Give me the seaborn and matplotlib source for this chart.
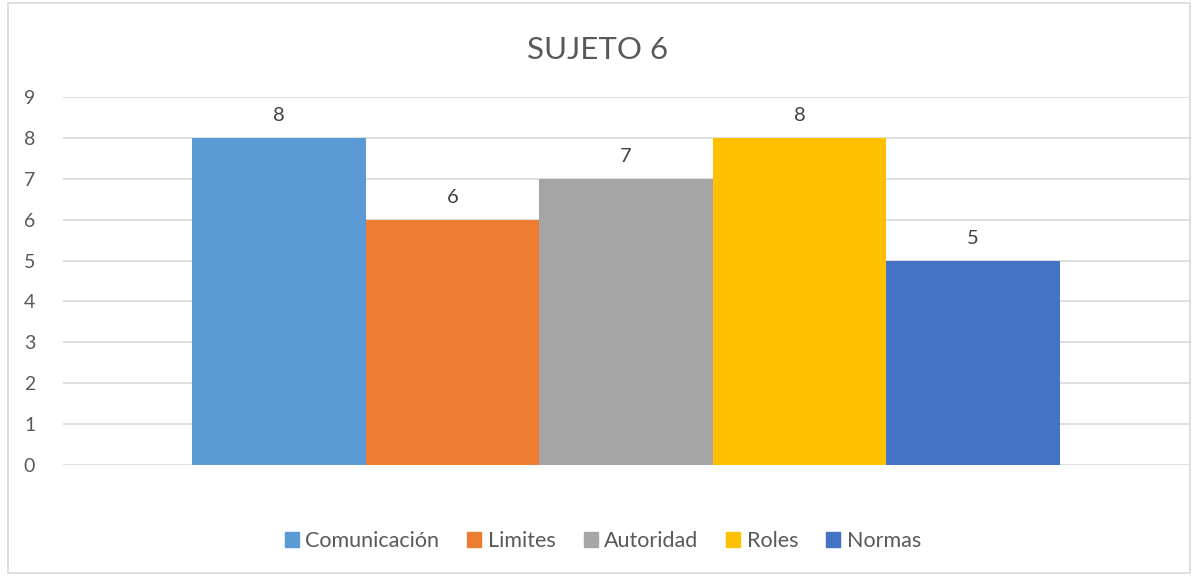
import matplotlib
matplotlib.use("Agg")
import matplotlib.pyplot as plt
import seaborn as sns
import pandas as pd
from matplotlib.patches import Rectangle

categories = ["Comunicación", "Limites", "Autoridad", "Roles", "Normas"]
values = [8, 6, 7, 8, 5]
colors = ["#5B9BD5", "#ED7D31", "#A5A5A5", "#FFC000", "#4472C4"]
yticks = list(range(0, 10))
title = "SUJETO 6"

sns.set_theme(style="white")
plt.rcParams['font.family'] = ['Lato', 'DejaVu Sans']

df = pd.DataFrame({"grupo": [""] * len(categories), "serie": categories, "valor": values})

W, H = 1193, 576
fig = plt.figure(figsize=(W / 100, H / 100), dpi=100)
ax = fig.add_axes([63 / W, (H - 465) / H, (1189 - 63) / W, (465 - 97) / H])

sns.barplot(data=df, x="grupo", y="valor", hue="serie", hue_order=categories,
            palette=colors, saturation=1, width=0.77, gap=0, ax=ax, legend=False,
            errorbar=None, linewidth=0)

for cont in ax.containers:
    ax.bar_label(cont, fmt="%g", padding=10, fontsize=14.5, color="#404040")

ax.set_xlim(-0.5, 0.5)
ax.set_ylim(0, 9)
ax.set_yticks(yticks)
ax.set_yticklabels([str(t) for t in yticks], fontsize=14, color="#595959")
ax.set_xticks([])
ax.set_xlabel("")
ax.set_ylabel("")
ax.tick_params(axis="y", length=0, pad=20)
ax.grid(axis="y", color="#D9D9D9", linewidth=1.2)
ax.set_axisbelow(True)
for s in ax.spines.values():
    s.set_visible(False)

fig.text(598 / W, 1 - 50 / H, title, ha="center", va="center", fontsize=22.5, color="#595959")

handles = [Rectangle((0, 0), 1, 1, color=c) for c in colors]
fig.legend(handles, categories, loc="center", bbox_to_anchor=(603 / W, 1 - 541 / H),
           ncol=5, frameon=False, fontsize=15.5, handlelength=0.65, handleheight=0.65,
           handletextpad=0.3, columnspacing=1.3, labelcolor="#595959")

fig.patches.append(Rectangle((8 / W, 3 / H), (1190 - 8) / W, (573 - 3) / H,
                             transform=fig.transFigure, fill=False,
                             edgecolor="#D9D9D9", linewidth=1.2))

fig.savefig("out.png", dpi=100, facecolor="white")
